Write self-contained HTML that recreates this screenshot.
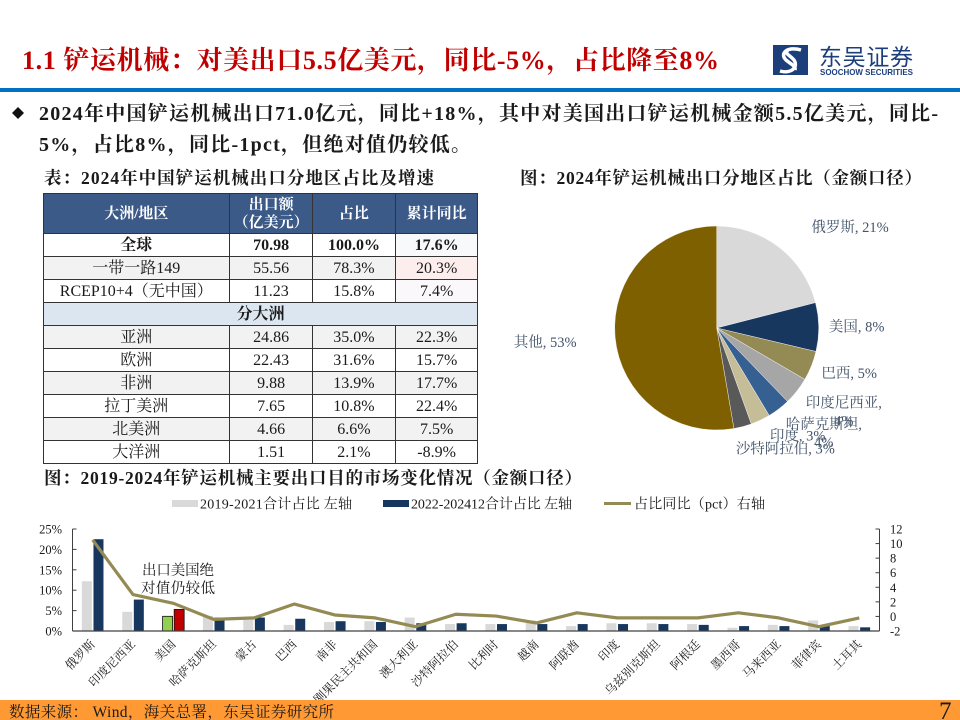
<!DOCTYPE html>
<html lang="zh-CN">
<head>
<meta charset="utf-8">
<title>铲运机械出口</title>
<style>
html,body{margin:0;padding:0;background:#fff;}
body{width:960px;height:720px;overflow:hidden;position:relative;font-family:"Liberation Serif","Noto Serif CJK SC",serif;}
#page{position:absolute;left:0;top:0;}
#page text{font-family:"Liberation Serif","Noto Serif CJK SC",serif;}
#region-table{position:absolute;left:42.5px;top:192.5px;width:435px;height:270px;border-collapse:collapse;table-layout:fixed;font-size:16px;color:#1a1a1a;}
#region-table td,#region-table th{border:1px solid #333;padding:0;text-align:center;line-height:1.1;white-space:nowrap;overflow:hidden;}
#region-table th{background:#3c5a88;color:#fff;font-size:15px;font-weight:bold;height:36px;padding-top:2px;line-height:1.25;}
#region-table td{height:20px;padding-top:2px;}
#region-table .alt td{background:#f2f2f2;}
#region-table .total td{font-weight:bold;}
#region-table .section td{background:#dce6f1;font-weight:bold;}
</style>
</head>
<body>
<svg id="page" width="960" height="720" viewBox="0 0 960 720" xmlns="http://www.w3.org/2000/svg">
  <text x="22" y="69" font-size="26" font-weight="bold" fill="#c00000" textLength="697" lengthAdjust="spacing">1.1 铲运机械：对美出口5.5亿美元，同比-5%，占比降至8%</text>
  <g>
    <rect x="773" y="45" width="35" height="30" fill="#1c3f7c"/>
    <path d="M801 50 C788 46 779 53 786 60 C792 65 796 66 795 70 M780 71 C790 74 799 68 794 60 C789 54 784 54 788 50" fill="none" stroke="#fff" stroke-width="3.5"/>
    <text x="819" y="65" font-size="23" fill="#1c3f7c" textLength="94" lengthAdjust="spacing" style="font-family:'Liberation Sans','Noto Sans CJK SC',sans-serif">东吴证券</text>
    <text x="820" y="75" font-size="8.5" font-weight="bold" fill="#1c3f7c" textLength="93" lengthAdjust="spacingAndGlyphs" style="font-family:'Liberation Sans',sans-serif">SOOCHOW SECURITIES</text>
  </g>
  <rect x="0" y="88" width="960" height="4" fill="#0070c0"/>
  <polygon points="18,107 24,113 18,119 12,113" fill="#111"/>
  <text x="39" y="120" font-size="20" font-weight="bold" fill="#1a1a1a" textLength="899" lengthAdjust="spacing">2024年中国铲运机械出口71.0亿元，同比+18%，其中对美国出口铲运机械金额5.5亿美元，同比-</text>
  <text x="39" y="151" font-size="20" font-weight="bold" fill="#1a1a1a" textLength="432" lengthAdjust="spacing">5%，占比8%，同比-1pct，但绝对值仍较低。</text>
  <text x="44" y="184" font-size="17.5" font-weight="bold" fill="#1a1a1a" textLength="390" lengthAdjust="spacing">表：2024年中国铲运机械出口分地区占比及增速</text>
  <text x="520" y="184" font-size="17.5" font-weight="bold" fill="#1a1a1a" textLength="402" lengthAdjust="spacing">图：2024年铲运机械出口分地区占比（金额口径）</text>
  <text x="44" y="484" font-size="17.5" font-weight="bold" fill="#1a1a1a" textLength="538" lengthAdjust="spacing">图：2019-2024年铲运机械主要出口目的市场变化情况（金额口径）</text>

  <g id="pie"></g>

  <g>
    <g>
      <rect x="172" y="500" width="26" height="7" fill="#d9d9d9"/>
      <text x="200" y="508.5" font-size="14" fill="#1a1a1a" textLength="152" lengthAdjust="spacing">2019-2021合计占比 左轴</text>
    </g>
    <g>
      <rect x="383" y="500" width="26" height="7" fill="#17375e"/>
      <text x="411" y="508.5" font-size="14" fill="#1a1a1a" textLength="161" lengthAdjust="spacing">2022-202412合计占比 左轴</text>
    </g>
    <g>
      <line x1="604" y1="503.5" x2="631" y2="503.5" stroke="#948a54" stroke-width="3"/>
      <text x="634" y="508.5" font-size="14" fill="#1a1a1a" textLength="131" lengthAdjust="spacing">占比同比（pct）右轴</text>
    </g>
  </g>

  <g id="combo"></g>

  <text x="142" y="575" font-size="14.5" fill="#1a1a1a" textLength="72" lengthAdjust="spacing">出口美国绝</text>
  <text x="141" y="593" font-size="14.5" fill="#1a1a1a" textLength="74" lengthAdjust="spacing">对值仍较低</text>

  <rect x="0" y="700" width="960" height="20" fill="#ff9933"/>
  <text x="9" y="717" font-size="15.5" fill="#1a1a1a" textLength="325" lengthAdjust="spacing">数据来源： Wind，海关总署，东吴证券研究所</text>
  <text x="939" y="719" font-size="25" fill="#1a1a1a">7</text>
</svg>

<table id="region-table">
  <colgroup><col style="width:186.6px"><col style="width:83px"><col style="width:82.7px"><col style="width:82.7px"></colgroup>
  <tr><th>大洲/地区</th><th>出口额<br>（亿美元）</th><th>占比</th><th>累计同比</th></tr>
  <tr class="total"><td>全球</td><td>70.98</td><td>100.0%</td><td style="background:#f7f9fb">17.6%</td></tr>
  <tr class="alt"><td>一带一路149</td><td>55.56</td><td>78.3%</td><td style="background:#fdeeee">20.3%</td></tr>
  <tr><td>RCEP10+4（无中国）</td><td>11.23</td><td>15.8%</td><td style="background:#fbf8fc">7.4%</td></tr>
  <tr class="section"><td colspan="4">分大洲</td></tr>
  <tr class="alt"><td>亚洲</td><td>24.86</td><td>35.0%</td><td>22.3%</td></tr>
  <tr><td>欧洲</td><td>22.43</td><td>31.6%</td><td>15.7%</td></tr>
  <tr class="alt"><td>非洲</td><td>9.88</td><td>13.9%</td><td>17.7%</td></tr>
  <tr><td>拉丁美洲</td><td>7.65</td><td>10.8%</td><td>22.4%</td></tr>
  <tr class="alt"><td>北美洲</td><td>4.66</td><td>6.6%</td><td>7.5%</td></tr>
  <tr><td>大洋洲</td><td>1.51</td><td>2.1%</td><td>-8.9%</td></tr>
</table>

<script>
// Pie chart data
const pieNames = ['俄罗斯', '美国', '巴西', '印度尼西亚', '哈萨克斯坦', '印度', '沙特阿拉伯', '其他'];
const pieValues = [21, 7.7, 4.7, 4.4, 3.6, 3.1, 2.8, 52.7];

// Combo chart data
const categories = ['俄罗斯', '印度尼西亚', '美国', '哈萨克斯坦', '蒙古', '巴西', '南非', '刚果民主共和国', '澳大利亚', '沙特阿拉伯', '比利时', '越南', '阿联酋', '印度', '乌兹别克斯坦', '阿根廷', '墨西哥', '马来西亚', '菲律宾', '土耳其'];
const share2019to2021 = [12.2, 4.7, 3.6, 3.7, 3.0, 1.5, 2.2, 2.4, 3.3, 1.7, 1.7, 2.6, 1.2, 1.9, 1.9, 1.7, 0.8, 1.5, 2.6, 1.2];
const share2022to2024 = [22.5, 7.7, 5.3, 3.3, 3.3, 3.0, 2.4, 2.2, 1.9, 1.9, 1.7, 1.7, 1.7, 1.7, 1.7, 1.5, 1.2, 1.2, 1.2, 0.9];
const yoyChange = [10.5, 3.0, 1.8, -0.4, -0.2, 1.7, 0.2, -0.2, -1.4, 0.3, 0.05, -0.9, 0.5, -0.2, -0.2, -0.2, 0.5, -0.2, -1.4, -0.2];
const leftTicks = [0, 5, 10, 15, 20, 25];
const rightTicks = [-2, 0, 2, 4, 6, 8, 10, 12];

const NS = 'http://www.w3.org/2000/svg';
function mk(parent, tag, attrs, txt) {
  const el = document.createElementNS(NS, tag);
  for (const k in attrs) el.setAttribute(k, attrs[k]);
  if (txt !== undefined) el.textContent = txt;
  parent.appendChild(el);
  return el;
}

function drawPie() {
  const g = document.getElementById('pie');
  const cx = 716.7, cy = 328, r = 102, labelR = 140;
  const colors = ['#d9d9d9', '#17375e', '#948a54', '#a6a6a6', '#376092', '#c4bd97', '#595959', '#7f6000'];
  const nudgeX = [47.5, 0, 2.5, 17, 22, 21, 33, -32];
  const nudgeY = [9.6, 0, -7, -12, -15, -19, -15, 2];
  const wrapped = [false, false, false, true, true, false, false, false];
  const total = pieValues.reduce((a, b) => a + b, 0);
  let acc = 0;
  pieValues.forEach((v, i) => {
    const a0 = acc / total * 2 * Math.PI;
    acc += v;
    const a1 = acc / total * 2 * Math.PI;
    const mid = (a0 + a1) / 2;
    const large = a1 - a0 > Math.PI ? 1 : 0;
    const d = 'M' + cx + ' ' + cy +
      'L' + (cx + r * Math.sin(a0)) + ' ' + (cy - r * Math.cos(a0)) +
      'A' + r + ' ' + r + ' 0 ' + large + ' 1 ' + (cx + r * Math.sin(a1)) + ' ' + (cy - r * Math.cos(a1)) + 'Z';
    const slice = mk(g, 'path', { d: d, fill: colors[i], stroke: '#fff', 'stroke-width': 0.4 });
    
    
    const lx = cx + labelR * Math.sin(mid) + nudgeX[i];
    const ly = cy - labelR * Math.cos(mid) + nudgeY[i];
    const pct = Math.round(v) + '%';
    const first = wrapped[i] ? pieNames[i] + ',' : pieNames[i] + ', ' + pct;
    const label = mk(g, 'text', { x: lx, y: ly + 5, 'font-size': 14.5, fill: '#44546a', 'text-anchor': 'middle' }, first);
    
    
    if (wrapped[i]) {
      const second = mk(g, 'text', { x: lx, y: ly + 23, 'font-size': 14.5, fill: '#44546a', 'text-anchor': 'middle' }, pct);
      
      
    }
  });
}

function drawCombo() {
  const g = document.getElementById('combo');
  const left = 72.5, right = 879.5, y0 = 631, yTop = 529;
  const yLeft = v => y0 - (v / 25) * (y0 - yTop);
  const yRight = v => y0 - ((v + 2) / 14) * (y0 - yTop);
  const band = (right - left) / categories.length;
  const xC = i => left + band * (i + 0.5);
  const barW = 10;

  share2019to2021.forEach((v, i) => {
    const isUS = i === 2;
    const y = yLeft(v);
    const b = mk(g, 'rect', { x: xC(i) - 10.8, y: y, width: barW, height: y0 - y, fill: isUS ? '#92d050' : '#d9d9d9', stroke: isUS ? '#111' : 'none', 'stroke-width': isUS ? 0.8 : 0 });
    
    
  });
  share2022to2024.forEach((v, i) => {
    const isUS = i === 2;
    const y = yLeft(v);
    const b = mk(g, 'rect', { x: xC(i) + 0.8, y: y, width: barW, height: y0 - y, fill: isUS ? '#c00000' : '#17375e', stroke: isUS ? '#111' : 'none', 'stroke-width': isUS ? 0.8 : 0 });
    
    
  });

  const axisColor = '#404040';
  const baseline = mk(g, 'line', { x1: left, y1: y0, x2: right, y2: y0, stroke: axisColor, 'stroke-width': 1.3 });
  
  
  const axisL = mk(g, 'line', { x1: left, y1: yTop, x2: left, y2: y0, stroke: axisColor, 'stroke-width': 1 });
  
  
  const axisR = mk(g, 'line', { x1: right, y1: yTop, x2: right, y2: y0, stroke: axisColor, 'stroke-width': 1 });
  
  

  leftTicks.forEach(t => {
    const y = yLeft(t);
    const tick = mk(g, 'line', { x1: left, y1: y, x2: left + 4, y2: y, stroke: axisColor, 'stroke-width': 1 });
    
    
    const lab = mk(g, 'text', { x: 62, y: y + 4.5, 'font-size': 12.5, fill: '#1a1a1a', 'text-anchor': 'end' }, t + '%');
    
    
  });
  rightTicks.forEach(t => {
    const y = yRight(t);
    const tick = mk(g, 'line', { x1: right - 4, y1: y, x2: right, y2: y, stroke: axisColor, 'stroke-width': 1 });
    
    
    const lab = mk(g, 'text', { x: 890, y: y + 4.5, 'font-size': 12.5, fill: '#1a1a1a' }, String(t));
    
    
  });

  const pts = yoyChange.map((v, i) => xC(i) + ',' + yRight(v)).join(' ');
  const line = mk(g, 'polyline', { points: pts, fill: 'none', stroke: '#948a54', 'stroke-width': 3.2, 'stroke-linejoin': 'round' });
  
  

  categories.forEach((c, i) => {
    const x = xC(i) + 3, y = 645;
    const lab = mk(g, 'text', { x: x, y: y, 'font-size': 12, fill: '#1a1a1a', 'text-anchor': 'end', transform: 'rotate(-45 ' + x + ' ' + y + ')' }, c);
    
    
  });
}

drawPie();
drawCombo();
</script>
</body>
</html>
